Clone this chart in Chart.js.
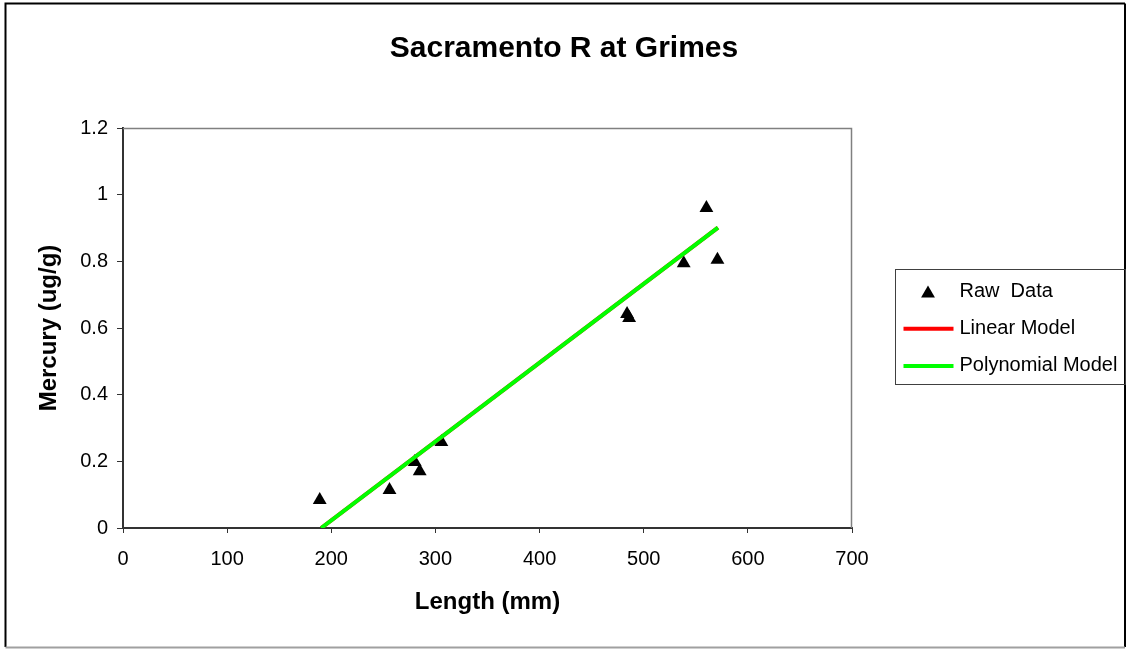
<!DOCTYPE html>
<html>
<head>
<meta charset="utf-8">
<script src="https://cdn.jsdelivr.net/npm/chart.js@4.4.0/dist/chart.umd.min.js"></script>
<style>
  body { margin: 0; background: #fff; }
  #wrap { width: 1128px; height: 649px; }
</style>
</head>
<body>
<div id="wrap"><canvas id="chart" width="1128" height="649"></canvas></div>
<script>
// raw fish samples (length mm, mercury ug/g)
const rawX = [188.9, 255.9, 280.1, 284.9, 305.7, 484.0, 486.0, 538.4, 560.2, 570.8];
const rawY = [0.084, 0.114, 0.198, 0.170, 0.258, 0.642, 0.630, 0.794, 0.960, 0.805];

// fitted models (end points of the drawn lines)
const linearX = [190.3, 571.3];
const linearY = [0.0, 0.901];
const polyX = [190.3, 571.3];
const polyY = [0.0, 0.901];

const xTicks = { min: 0, max: 700, step: 100 };
const yTicks = { min: 0, max: 1.2, step: 0.2 };

const FONT = 'Arial, "Liberation Sans", sans-serif';
Chart.defaults.font.family = FONT;
Chart.defaults.color = '#000';

const toPoints = (xs, ys) => xs.map((x, i) => ({ x: x, y: ys[i] }));

const framePlugin = {
  id: 'frame',
  beforeDraw(chart) {
    const ctx = chart.ctx;
    ctx.save();
    ctx.fillStyle = '#fff';
    ctx.fillRect(0, 0, chart.width, chart.height);
    ctx.restore();
  },
  beforeDatasetsDraw(chart) {
    // gray plot-area border on top and right
    const ctx = chart.ctx, a = chart.chartArea;
    ctx.save();
    ctx.strokeStyle = '#808080';
    ctx.lineWidth = 1.5;
    ctx.beginPath();
    ctx.moveTo(a.left, a.top + 0.5);
    ctx.lineTo(a.right - 0.5, a.top + 0.5);
    ctx.lineTo(a.right - 0.5, a.bottom);
    ctx.stroke();
    ctx.restore();
  },
  afterDraw(chart) {
    const ctx = chart.ctx;
    ctx.save();
    // outer border
    ctx.strokeStyle = '#000';
    ctx.lineWidth = 2;
    ctx.beginPath();
    ctx.moveTo(1125, 3.5);
    ctx.lineTo(5.5, 3.5);
    ctx.lineTo(5.5, 647);
    ctx.stroke();
    ctx.beginPath();
    ctx.moveTo(1125, 3.5);
    ctx.lineTo(1125, 647);
    ctx.stroke();
    ctx.strokeStyle = '#a0a0a0';
    ctx.beginPath();
    ctx.moveTo(5.5, 647.5);
    ctx.lineTo(1125, 647.5);
    ctx.stroke();

    // legend
    const lx = 895.5, ly = 269.5, lw = 230, lh = 115;
    ctx.strokeStyle = '#404040';
    ctx.lineWidth = 1;
    ctx.strokeRect(lx, ly, lw, lh);
    ctx.font = '20px ' + FONT;
    ctx.textBaseline = 'middle';
    ctx.textAlign = 'left';
    chart.data.datasets.forEach((ds, i) => {
      const cy = ly + 22 + i * 37.3;
      if (ds.showLine) {
        ctx.strokeStyle = ds.borderColor;
        ctx.lineWidth = 4;
        ctx.beginPath();
        ctx.moveTo(lx + 8, cy);
        ctx.lineTo(lx + 58, cy);
        ctx.stroke();
      } else {
        const cx = lx + 32.5, r = 8, py = cy + 2;
        ctx.fillStyle = ds.backgroundColor;
        ctx.beginPath();
        ctx.moveTo(cx, py - r);
        ctx.lineTo(cx + r * Math.sqrt(3) / 2, py + r / 2);
        ctx.lineTo(cx - r * Math.sqrt(3) / 2, py + r / 2);
        ctx.closePath();
        ctx.fill();
      }
      ctx.fillStyle = '#000';
      ctx.fillText(ds.label, lx + 64, cy - 0.5);
    });
    ctx.restore();
  }
};

new Chart(document.getElementById('chart'), {
  type: 'scatter',
  data: {
    datasets: [
      {
        label: 'Raw  Data',
        data: toPoints(rawX, rawY),
        pointStyle: 'triangle',
        pointRadius: 8,
        pointHoverRadius: 8,
        backgroundColor: '#000',
        borderColor: '#000',
        borderWidth: 0,
        order: 3
      },
      {
        label: 'Linear Model',
        data: toPoints(linearX, linearY),
        showLine: true,
        pointRadius: 0,
        borderColor: '#ff0000',
        borderWidth: 4,
        order: 2
      },
      {
        label: 'Polynomial Model',
        data: toPoints(polyX, polyY),
        showLine: true,
        pointRadius: 0,
        borderColor: '#00ff00',
        borderWidth: 4,
        order: 1
      }
    ]
  },
  options: {
    responsive: false,
    animation: false,
    events: [],
    layout: { padding: { top: 0, left: 10, right: 10, bottom: 10 } },
    plugins: {
      legend: { display: false },
      tooltip: { enabled: false },
      title: {
        display: true,
        text: 'Sacramento R at Grimes',
        color: '#000',
        font: { size: 30, weight: 'bold' },
        padding: { top: 31, bottom: 61 }
      }
    },
    scales: {
      x: {
        type: 'linear',
        min: xTicks.min,
        max: xTicks.max,
        ticks: { stepSize: xTicks.step, font: { size: 20 }, color: '#000', padding: 14, maxRotation: 0 },
        grid: { drawOnChartArea: false, drawTicks: true, tickLength: 5, color: '#333' },
        border: { color: '#333', width: 2 },
        title: {
          display: true,
          text: 'Length (mm)',
          color: '#000',
          font: { size: 24, weight: 'bold' },
          padding: { top: 0, bottom: 22 }
        },
        afterFit(scale) { scale.height = 111; }
      },
      y: {
        type: 'linear',
        min: yTicks.min,
        max: yTicks.max,
        ticks: {
          stepSize: yTicks.step,
          font: { size: 20 },
          color: '#000',
          padding: 9,
          callback: (v) => String(Math.round(v * 10) / 10)
        },
        grid: { drawOnChartArea: false, drawTicks: true, tickLength: 6, color: '#333' },
        border: { color: '#333', width: 2 },
        title: {
          display: true,
          text: 'Mercury (ug/g)',
          color: '#000',
          font: { size: 24, weight: 'bold' },
          padding: { top: 25, bottom: 0 }
        },
        afterFit(scale) { scale.width = 113; }
      },
      // empty axis that keeps room for the legend on the right
      spacer: {
        type: 'linear',
        position: 'right',
        display: true,
        ticks: { display: false },
        grid: { display: false },
        border: { display: false },
        afterFit(scale) { scale.width = 266; }
      }
    }
  },
  plugins: [framePlugin]
});
</script>
</body>
</html>
